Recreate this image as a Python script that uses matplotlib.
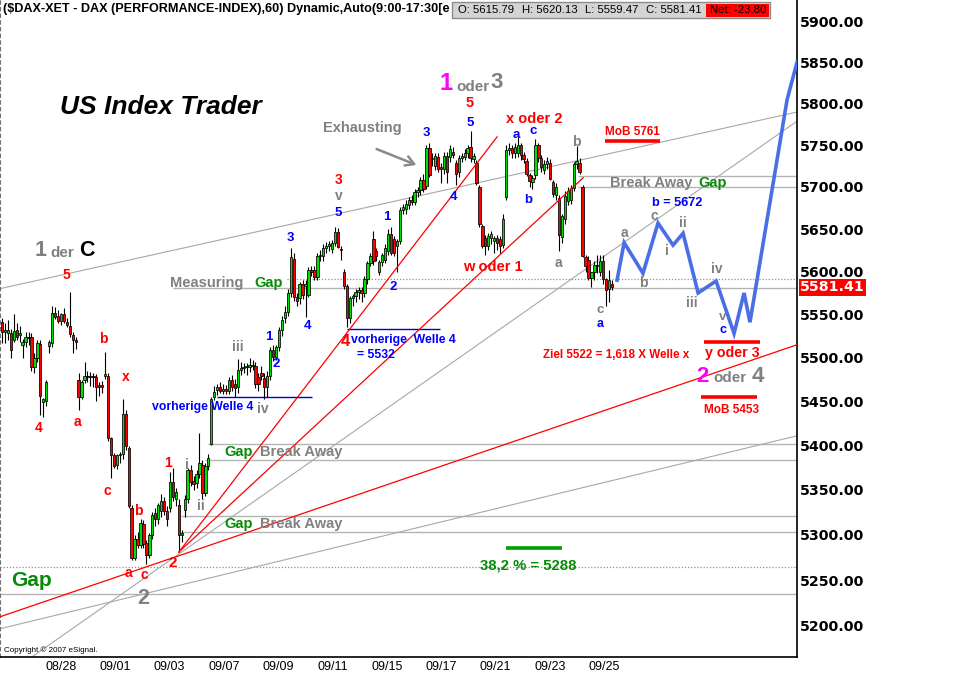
import matplotlib
matplotlib.use("Agg")
import matplotlib.pyplot as plt
import matplotlib.transforms as mtransforms
from matplotlib.patches import Rectangle
from matplotlib.ticker import FixedLocator, NullLocator, FuncFormatter

plt.rcParams['font.family'] = ['Liberation Sans', 'DejaVu Sans']

# ---------------- data (hourly DAX candles) ----------------
opens = [5541, 5530, 5529, 5529, 5520, 5532, 5526, 5515, 5518, 5524, 5524, 5489, 5500, 5516, 5449, 5450,
         5514, 5517, 5552, 5548, 5542, 5550, 5541, 5537, 5526, 5520, 5475, 5455, 5475, 5479, 5478, 5479,
         5478, 5469, 5469, 5479, 5479, 5408, 5389, 5378, 5389, 5390, 5436, 5397, 5330, 5275, 5296, 5289,
         5312, 5291, 5278, 5300, 5324, 5318, 5327, 5338, 5327, 5330, 5359, 5340, 5333, 5300, 5328, 5340,
         5372, 5360, 5358, 5368, 5378, 5347, 5377, 5402, 5455, 5463, 5466, 5462, 5464, 5462, 5474, 5470,
         5466, 5486, 5488, 5489, 5489, 5492, 5490, 5478, 5483, 5477, 5466, 5479, 5509, 5501, 5512, 5532,
         5546, 5553, 5575, 5615, 5570, 5569, 5585, 5583, 5573, 5602, 5602, 5594, 5618, 5618, 5628, 5630,
         5627, 5634, 5647, 5627, 5600, 5583, 5546, 5569, 5571, 5576, 5578, 5575, 5591, 5610, 5638, 5624,
         5600, 5611, 5614, 5624, 5644, 5638, 5630, 5636, 5673, 5674, 5678, 5684, 5682, 5694, 5696, 5708,
         5701, 5746, 5733, 5725, 5736, 5724, 5721, 5737, 5736, 5742, 5728, 5718, 5735, 5736, 5740, 5748,
         5733, 5728, 5700, 5654, 5640, 5630, 5640, 5636, 5640, 5638, 5631, 5688, 5744, 5746, 5740, 5740,
         5750, 5738, 5731, 5714, 5706, 5714, 5750, 5734, 5720, 5727, 5728, 5706, 5690, 5687, 5641, 5662,
         5683, 5685, 5699, 5727, 5729, 5700, 5617, 5614, 5593, 5599, 5608, 5600, 5612, 5591, 5580, 5585]
highs = [5546, 5540, 5544, 5533, 5550, 5540, 5537, 5522, 5530, 5530, 5528, 5505, 5520, 5520, 5454, 5475,
         5520, 5560, 5559, 5555, 5552, 5557, 5546, 5576, 5530, 5524, 5483, 5475, 5495, 5485, 5484, 5483,
         5481, 5472, 5473, 5507, 5482, 5410, 5392, 5390, 5393, 5453, 5440, 5400, 5333, 5300, 5303, 5318,
         5316, 5294, 5302, 5325, 5330, 5336, 5345, 5342, 5332, 5370, 5375, 5352, 5340, 5305, 5344, 5375,
         5378, 5366, 5372, 5414, 5384, 5380, 5390, 5455, 5468, 5470, 5472, 5470, 5469, 5478, 5480, 5476,
         5498, 5495, 5494, 5494, 5500, 5497, 5495, 5482, 5490, 5482, 5485, 5512, 5515, 5515, 5535, 5548,
         5560, 5580, 5628, 5622, 5575, 5588, 5590, 5590, 5605, 5607, 5606, 5622, 5625, 5632, 5635, 5636,
         5637, 5653, 5651, 5630, 5603, 5585, 5572, 5574, 5580, 5582, 5582, 5595, 5612, 5622, 5648, 5628,
         5614, 5622, 5632, 5650, 5652, 5642, 5638, 5676, 5680, 5684, 5688, 5690, 5698, 5700, 5712, 5715,
         5750, 5752, 5740, 5740, 5740, 5728, 5742, 5742, 5750, 5748, 5732, 5738, 5741, 5745, 5750, 5767,
         5740, 5732, 5702, 5656, 5643, 5645, 5648, 5642, 5643, 5642, 5668, 5750, 5752, 5750, 5752, 5760,
         5753, 5742, 5735, 5717, 5714, 5758, 5752, 5738, 5732, 5736, 5733, 5708, 5705, 5690, 5668, 5695,
         5700, 5702, 5730, 5749, 5735, 5702, 5620, 5618, 5600, 5612, 5620, 5620, 5619, 5593, 5602, 5590]
lows = [5517, 5517, 5520, 5500, 5518, 5520, 5518, 5500, 5512, 5515, 5485, 5483, 5495, 5434, 5432, 5445,
        5505, 5512, 5545, 5540, 5538, 5540, 5535, 5524, 5505, 5510, 5440, 5453, 5471, 5472, 5468, 5466,
        5450, 5456, 5460, 5476, 5405, 5363, 5375, 5373, 5380, 5385, 5395, 5330, 5272, 5272, 5285, 5285,
        5285, 5268, 5275, 5295, 5310, 5312, 5320, 5322, 5310, 5325, 5338, 5332, 5281, 5292, 5320, 5335,
        5355, 5350, 5352, 5363, 5340, 5343, 5372, 5401, 5452, 5457, 5460, 5458, 5458, 5458, 5462, 5455,
        5460, 5480, 5482, 5480, 5484, 5486, 5465, 5462, 5475, 5453, 5455, 5475, 5496, 5497, 5508, 5525,
        5540, 5548, 5570, 5566, 5560, 5562, 5568, 5547, 5570, 5595, 5590, 5590, 5612, 5612, 5622, 5624,
        5622, 5630, 5628, 5614, 5580, 5535, 5540, 5560, 5565, 5568, 5565, 5570, 5586, 5606, 5608, 5612,
        5596, 5606, 5610, 5620, 5620, 5618, 5599, 5632, 5668, 5668, 5674, 5678, 5678, 5688, 5690, 5694,
        5698, 5712, 5725, 5720, 5718, 5705, 5716, 5705, 5730, 5735, 5702, 5712, 5730, 5732, 5735, 5730,
        5728, 5702, 5652, 5628, 5620, 5625, 5632, 5622, 5625, 5622, 5628, 5685, 5738, 5735, 5735, 5736,
        5732, 5728, 5713, 5700, 5698, 5710, 5730, 5718, 5716, 5722, 5708, 5688, 5685, 5624, 5634, 5656,
        5678, 5680, 5695, 5722, 5715, 5617, 5600, 5590, 5582, 5590, 5598, 5595, 5585, 5560, 5565, 5578]
closes = [5530, 5532, 5532, 5509, 5531, 5524, 5529, 5518, 5524, 5523, 5489, 5500, 5517, 5456, 5453, 5472,
          5518, 5552, 5547, 5542, 5550, 5542, 5538, 5527, 5520, 5518, 5455, 5472, 5479, 5478, 5479, 5478,
          5467, 5467, 5467, 5481, 5408, 5389, 5377, 5389, 5390, 5436, 5399, 5332, 5275, 5296, 5289, 5313,
          5290, 5278, 5300, 5322, 5318, 5333, 5338, 5327, 5318, 5359, 5342, 5348, 5300, 5302, 5340, 5372,
          5359, 5357, 5368, 5380, 5347, 5377, 5386, 5453, 5461, 5466, 5462, 5464, 5462, 5474, 5467, 5465,
          5486, 5488, 5489, 5490, 5492, 5490, 5470, 5470, 5479, 5467, 5479, 5509, 5501, 5512, 5532, 5544,
          5553, 5575, 5617, 5570, 5566, 5585, 5573, 5585, 5602, 5600, 5594, 5618, 5620, 5628, 5630, 5632,
          5634, 5647, 5629, 5625, 5583, 5546, 5569, 5571, 5576, 5578, 5575, 5591, 5610, 5618, 5612, 5618,
          5611, 5620, 5628, 5644, 5622, 5622, 5636, 5673, 5676, 5680, 5684, 5682, 5694, 5696, 5708, 5698,
          5746, 5714, 5735, 5737, 5722, 5722, 5737, 5718, 5745, 5738, 5715, 5735, 5737, 5740, 5746, 5735,
          5737, 5705, 5656, 5630, 5630, 5642, 5644, 5640, 5634, 5630, 5662, 5744, 5746, 5740, 5748, 5750,
          5738, 5733, 5716, 5707, 5711, 5750, 5734, 5724, 5727, 5731, 5710, 5692, 5700, 5643, 5665, 5689,
          5695, 5699, 5727, 5731, 5718, 5618, 5606, 5593, 5599, 5608, 5607, 5612, 5591, 5579, 5590, 5581.41]

date_labels = ["08/28", "09/01", "09/03", "09/07", "09/09", "09/11",
               "09/15", "09/17", "09/21", "09/23", "09/25"]
price_ticks = [5200, 5250, 5300, 5350, 5400, 5450, 5500, 5550,
               5600, 5650, 5700, 5750, 5800, 5850, 5900]

# projected wave path (bar index, price)
proj_x = [208.7, 211.1, 217.5, 222.6, 227.7, 231.1, 236.2, 242.3, 248.4, 251.8, 253.8, 266.4, 269.8]
proj_p = [5590, 5634, 5598, 5657, 5631, 5645, 5575, 5589, 5528, 5575, 5541, 5805, 5851]

# trend lines (x0, p0, x1, p1)
red_trends = [(-0.7, 5210, 269.8, 5515), (60, 5281, 168, 5760), (60, 5281, 197.2, 5711)]
grey_trends = [(-0.7, 5580, 269.8, 5790), (9.5, 5165, 269.8, 5779), (-0.7, 5197, 269.8, 5411)]

# horizontal levels
grey_levels = [5235, 5303, 5321, 5384, 5402, 5581, 5700, 5713]
grey_levels_from = [-0.7, 60.7, 60.7, 68.9, 69.9, 58.0, 195.5, 195.5]
dotted_levels = [5265, 5591]
dotted_levels_from = [-0.7, 96.7]
blue_levels = [5455, 5533]
blue_from = [73, 117.1]
blue_to = [105.2, 148.6]
red_targets = [5755, 5518, 5455]
red_from = [204.6, 238.2, 237.2]
red_to = [223.3, 257.2, 256.2]
fib_level = 5285
fib_from, fib_to = 171, 190

# ---------------- figure ----------------
FW, FH = 960, 678
fig = plt.figure(figsize=(FW / 100, FH / 100), dpi=100)
fig.patch.set_facecolor('white')
ax = fig.add_axes([0, 21 / FH, 797 / FW, 657 / FH])
ax.set_yscale('log')
XL, XR = -0.68, 269.76
ax.set_xlim(XL, XR)
ax.set_ylim(5166.4, 5927.2)

# levels
for p, f in zip(grey_levels, grey_levels_from):
    ax.hlines(p, f, XR, color='#b4b4b4', lw=1.0, zorder=1)
for p, f in zip(dotted_levels, dotted_levels_from):
    ax.hlines(p, f, XR, color='#909090', lw=0.9, linestyles=(0, (1, 1.5)), zorder=1)
for p, f, t in zip(blue_levels, blue_from, blue_to):
    ax.hlines(p, f, t, color='#0000cc', lw=1.0, zorder=3)
for p, f, t in zip(red_targets, red_from, red_to):
    ax.hlines(p, f, t, color='#ff0000', lw=2.6, zorder=3)
ax.hlines(fib_level, fib_from, fib_to, color='#00a000', lw=2.6, zorder=3)

for x0, p0, x1, p1 in grey_trends:
    ax.plot([x0, x1], [p0, p1], color='#a8a8a8', lw=0.8, zorder=1.5)
for x0, p0, x1, p1 in red_trends:
    ax.plot([x0, x1], [p0, p1], color='#ff0000', lw=0.9, zorder=3)

# candles
n = len(closes)
for i in range(n):
    o, h, l, c = opens[i], highs[i], lows[i], closes[i]
    ax.vlines(i, l, h, color='black', lw=0.8, zorder=2)
    col = '#00e000' if c >= o else '#ff0000'
    b = min(o, c)
    hgt = max(abs(c - o), 0.6)
    ax.bar(i, hgt, bottom=b, width=0.8, color=col, edgecolor='black', linewidth=0.55, zorder=2.2)

# projection
ax.plot(proj_x, proj_p, color='#4a6ee6', lw=2.6, solid_joinstyle='miter', zorder=4)

# axes styling
ax.spines['top'].set_visible(False)
ax.spines['left'].set_linestyle((0, (3, 3)))
ax.spines['left'].set_color('#707070')
ax.spines['right'].set_color('black')
ax.spines['bottom'].set_color('black')
ax.spines['right'].set_linewidth(1.2)
ax.spines['bottom'].set_linewidth(1.2)

ax.yaxis.tick_right()
ax.yaxis.set_major_locator(FixedLocator(price_ticks))
ax.yaxis.set_minor_locator(NullLocator())
ax.yaxis.set_minor_formatter(FuncFormatter(lambda v, p: ''))
ax.yaxis.set_major_formatter(FuncFormatter(lambda v, p: f'{v:.2f}'))
ax.tick_params(axis='y', length=0, pad=2.2, labelcolor='black')
for lab in ax.get_yticklabels():
    lab.set_fontweight('bold')
    lab.set_fontfamily('DejaVu Sans')
    lab.set_fontsize(10.2)

tick_pos = [20.0 + 18.43 * k for k in range(len(date_labels))]
ax.set_xticks(tick_pos)
ax.set_xticklabels(date_labels)
ax.tick_params(axis='x', length=0, pad=3, labelsize=9, labelcolor='black')

# last price tag
trans = mtransforms.blended_transform_factory(ax.transAxes, ax.transData)
ax.text(1.004, closes[-1], f'{closes[-1]:.2f}', transform=trans, color='white', fontsize=10.2,
        fontweight='bold', family='DejaVu Sans', ha='left', va='center', clip_on=False,
        bbox=dict(boxstyle='square,pad=0.1', fc='#ff0000', ec='none'), zorder=6)

# ---------------- texts ----------------
def T(px, py, s, c, size, weight='bold', ha='center', va='center', style='normal', z=5):
    fig.text(px / FW, 1 - py / FH, s, color=c, fontsize=size, fontweight=weight,
             ha=ha, va=va, fontstyle=style, zorder=z)

RED, GREY, BLUE, GREEN, MAG = '#ff0000', '#808080', '#0000ff', '#078a07', '#ff00ff'

T(3, 9, "($DAX-XET - DAX (PERFORMANCE-INDEX),60) Dynamic,Auto(9:00-17:30[e", 'black', 9.1, ha='left', z=4)
fig.patches.append(Rectangle((452 / FW, 1 - 18 / FH), (770 - 452) / FW, 16 / FH, transform=fig.transFigure,
                             fc='#d4d4d4', ec='#8c8c8c', lw=1, zorder=6))
fig.patches.append(Rectangle((706 / FW, 1 - 16.5 / FH), (769 - 706) / FW, 13 / FH, transform=fig.transFigure,
                             fc='#ff0000', ec='none', zorder=6.5))
T(458, 10, "O: 5615.79", 'black', 8.2, weight='normal', ha='left', z=7)
T(522, 10, "H: 5620.13", 'black', 8.2, weight='normal', ha='left', z=7)
T(585, 10, "L: 5559.47", 'black', 8.2, weight='normal', ha='left', z=7)
T(646, 10, "C: 5581.41", 'black', 8.2, weight='normal', ha='left', z=7)
T(738, 10, "Net: -23.80", 'black', 8.2, weight='normal', z=7)

T(161, 107, "US Index Trader", 'black', 19, style='italic')

T(41, 250, "1", GREY, 15.5)
T(62, 253, "der", GREY, 11)
T(87, 250, "C", 'black', 15.5)
T(66, 275, "5", RED, 10)
T(39, 428, "4", RED, 10)
T(77, 422, "a", RED, 10)
T(103, 339, "b", RED, 10)
T(126, 377, "x", RED, 10)
T(107, 491, "c", RED, 10)
T(168, 463, "1", RED, 10)
T(138, 511, "b", RED, 10)
T(128, 573, "a", RED, 10)
T(144, 575, "c", RED, 10)
T(173, 563, "2", RED, 11)
T(143, 598, "2", GREY, 15.5)
T(32, 580, "Gap", GREEN, 15)
T(4, 650, "Copyright \u00a9 2007 eSignal.", 'black', 5.8, weight='normal', ha='left')

T(207, 283, "Measuring", GREY, 10.5)
T(269, 283, "Gap", GREEN, 10.5)
T(239, 452, "Gap", GREEN, 10.5)
T(301, 452, "Break Away", GREY, 10.5)
T(239, 524, "Gap", GREEN, 10.5)
T(301, 524, "Break Away", GREY, 10.5)

T(187, 465, "i", GREY, 10)
T(201, 506, "ii", GREY, 10)
T(238, 347, "iii", GREY, 10)
T(263, 409, "iv", GREY, 10)
T(203, 407, "vorherige Welle 4", BLUE, 8.8)
T(269, 337, "1", BLUE, 9.5)
T(276, 364, "2", BLUE, 9.5)
T(290, 238, "3", BLUE, 9.5)
T(308, 326, "4", BLUE, 9.5)
T(338, 213, "5", BLUE, 9.5)
T(339, 196, "v", GREY, 10)
T(339, 180, "3", RED, 10)
T(387, 217, "1", BLUE, 9.5)
T(393, 287, "2", BLUE, 9.5)
T(345, 342, "4", RED, 12)
T(403, 340, "vorherige  Welle 4", BLUE, 8.8)
T(357, 355, "= 5532", BLUE, 8.8, ha='left')

T(362, 128, "Exhausting", GREY, 10.5)
fig.add_artist(matplotlib.patches.FancyArrowPatch((374 / FW, 1 - 148 / FH), (419 / FW, 1 - 166 / FH),
                                                  transform=fig.transFigure, arrowstyle='->,head_length=6,head_width=3.5',
                                                  color='#8a8a8a', lw=1.8, zorder=5))
T(426, 133, "3", BLUE, 9.5)
T(470, 123, "5", BLUE, 9.5)
T(470, 103, "5", RED, 10.5)
T(446, 83, "1", MAG, 17)
T(473, 87, "oder", GREY, 11)
T(497, 83, "3", GREY, 16)
T(453, 197, "4", BLUE, 9.5)
T(534, 119, "x oder 2", RED, 10.5)
T(516, 135, "a", BLUE, 9.5)
T(533, 131, "c", BLUE, 9.5)
T(528, 200, "b", BLUE, 9.5)
T(493, 267, "w oder 1", RED, 10.5)
T(558, 263, "a", GREY, 10)
T(576, 142, "b", GREY, 10)
T(632, 132, "MoB 5761", RED, 8.5)
T(651, 183, "Break Away", GREY, 10.5)
T(713, 183, "Gap", GREEN, 10.5)
T(677, 203, "b = 5672", BLUE, 9.2)
T(624, 233, "a", GREY, 10)
T(643, 283, "b", GREY, 10)
T(654, 216, "c", GREY, 10)
T(667, 251, "i", GREY, 10)
T(683, 223, "ii", GREY, 10)
T(692, 303, "iii", GREY, 10)
T(717, 269, "iv", GREY, 10)
T(723, 317, "v", GREY, 9.5)
T(723, 330, "c", BLUE, 9)
T(600, 310, "c", GREY, 9.5)
T(600, 324, "a", BLUE, 9)
T(689, 355, "Ziel 5522 = 1,618 X Welle x", RED, 8.4, ha='right')
T(732, 353, "y oder 3", RED, 10.3)
T(702, 377, "2", MAG, 16)
T(730, 378, "oder", GREY, 11)
T(758, 377, "4", GREY, 16)
T(732, 410, "MoB 5453", RED, 8.5)
T(528, 565, "38,2 % = 5288", GREEN, 10.7)

fig.savefig("out.png", dpi=100, facecolor='white')
